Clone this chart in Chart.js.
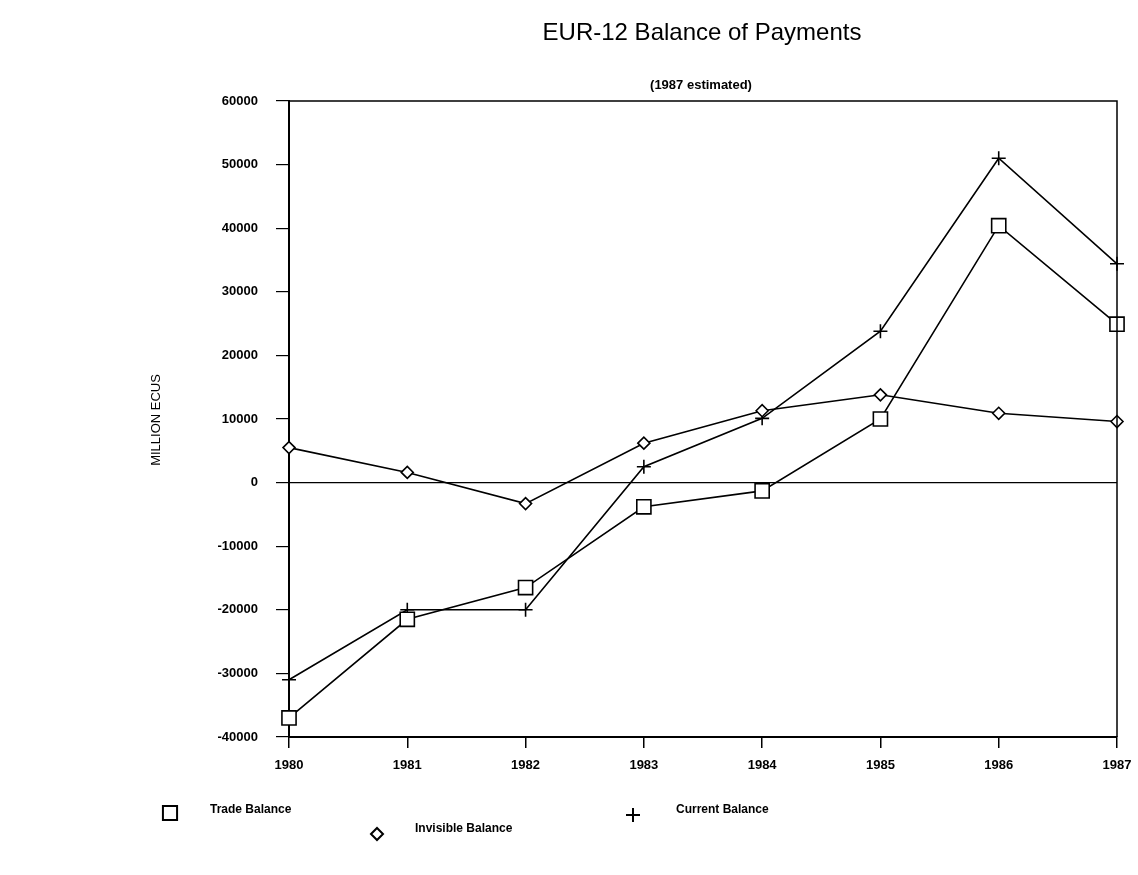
<!DOCTYPE html>
<html>
<head>
<meta charset="utf-8">
<title>EUR-12 Balance of Payments</title>
<script src="https://cdn.jsdelivr.net/npm/chart.js@4"></script>
<style>
    html, body { margin: 0; padding: 0; background: #fff; }
    #wrap { width: 1138px; height: 875px; }
</style>
</head>
<body>
<div id="wrap"><canvas id="bopChart" width="1138" height="875"></canvas></div>
<script>
// years on the x axis
var years = ['1980', '1981', '1982', '1983', '1984', '1985', '1986', '1987'];

// million ECUs
var tradeBalance = [-37000, -21500, -16500, -3800, -1300, 10000, 40400, 24900];
var invisibleBalance = [5500, 1600, -3300, 6200, 11300, 13800, 10900, 9600];
var currentBalance = [-31000, -20000, -20000, 2500, 10100, 23800, 51000, 34400];

var yMin = -40000;
var yMax = 60000;
var yStep = 10000;

var FONT = '"Liberation Sans", Arial, Helvetica, sans-serif';

// title, y label, frame and the legend at the bottom
var extras = {
    id: 'extras',
    afterDraw: function (chart) {
        var ctx = chart.ctx;
        var area = chart.chartArea;
        ctx.save();

        // top + right sides of the frame
        ctx.strokeStyle = '#000';
        ctx.lineWidth = 1.5;
        ctx.beginPath();
        ctx.moveTo(area.left, area.top);
        ctx.lineTo(area.right, area.top);
        ctx.lineTo(area.right, area.bottom);
        ctx.stroke();

        ctx.fillStyle = '#000';
        ctx.textAlign = 'center';
        ctx.textBaseline = 'middle';
        ctx.font = '24px ' + FONT;
        ctx.fillText('EUR-12 Balance of Payments', 702, 33);

        ctx.font = 'bold 13px ' + FONT;
        ctx.fillText('(1987 estimated)', 701, 85);

        ctx.save();
        ctx.translate(156, 420);
        ctx.rotate(-Math.PI / 2);
        ctx.font = '13px ' + FONT;
        ctx.fillText('MILLION ECUS', 0, 0);
        ctx.restore();

        // legend
        var items = [
            { ds: 0, x: 170, y: 813, tx: 210, ty: 810 },
            { ds: 2, x: 633, y: 815, tx: 676, ty: 810 },
            { ds: 1, x: 377, y: 834, tx: 415, ty: 829 }
        ];
        ctx.textAlign = 'left';
        ctx.font = 'bold 12px ' + FONT;
        items.forEach(function (it) {
            var ds = chart.data.datasets[it.ds];
            ctx.lineWidth = 2;
            ctx.strokeStyle = '#000';
            ctx.fillStyle = '#fff';
            Chart.helpers.drawPoint(ctx, {
                pointStyle: ds.pointStyle,
                radius: ds.pointRadius,
                borderWidth: 2
            }, it.x, it.y);
            ctx.fillStyle = '#000';
            ctx.fillText(ds.label, it.tx, it.ty);
        });

        ctx.restore();
    }
};

var ctx = document.getElementById('bopChart');

window.bopChart = new Chart(ctx, {
    type: 'line',
    data: {
        labels: years,
        datasets: [
            {
                label: 'Trade Balance',
                data: tradeBalance,
                borderColor: '#000',
                backgroundColor: '#fff',
                borderWidth: 1.6,
                pointStyle: 'rect',
                pointRadius: 10,
                pointBorderWidth: 1.6,
                pointBackgroundColor: '#fff',
                pointBorderColor: '#000',
                tension: 0
            },
            {
                label: 'Invisible Balance',
                data: invisibleBalance,
                borderColor: '#000',
                backgroundColor: '#fff',
                borderWidth: 1.6,
                pointStyle: 'rectRot',
                pointRadius: 6,
                pointBorderWidth: 1.6,
                pointBackgroundColor: '#fff',
                pointBorderColor: '#000',
                tension: 0
            },
            {
                label: 'Current Balance',
                data: currentBalance,
                borderColor: '#000',
                backgroundColor: '#fff',
                borderWidth: 1.6,
                pointStyle: 'cross',
                pointRadius: 7,
                pointBorderWidth: 1.6,
                pointBorderColor: '#000',
                tension: 0
            }
        ]
    },
    options: {
        responsive: false,
        animation: false,
        layout: {
            padding: { left: 0, right: 21, top: 101, bottom: 0 }
        },
        scales: {
            x: {
                offset: false,
                afterFit: function (scale) {
                    scale.height = 138;
                    scale.paddingLeft = 0;
                    scale.paddingRight = 0;
                },
                grid: {
                    color: 'transparent',
                    tickColor: '#000',
                    tickLength: 11,
                    lineWidth: 1.5
                },
                border: { display: true, color: '#000', width: 2 },
                ticks: {
                    color: '#000',
                    padding: 10,
                    maxRotation: 0,
                    font: { family: FONT, size: 13, weight: 'bold' }
                }
            },
            y: {
                min: yMin,
                max: yMax,
                afterFit: function (scale) { scale.width = 289; },
                grid: {
                    color: function (c) { return c.tick && c.tick.value === 0 ? '#000' : 'transparent'; },
                    tickColor: '#000',
                    tickLength: 13,
                    lineWidth: 1.2
                },
                border: { display: true, color: '#000', width: 2 },
                ticks: {
                    stepSize: yStep,
                    color: '#000',
                    padding: 18,
                    font: { family: FONT, size: 13, weight: 'bold' },
                    callback: function (value) { return String(value); }
                }
            }
        },
        plugins: {
            legend: { display: false },
            title: { display: false },
            tooltip: { enabled: false }
        }
    },
    plugins: [extras]
});
</script>
</body>
</html>
